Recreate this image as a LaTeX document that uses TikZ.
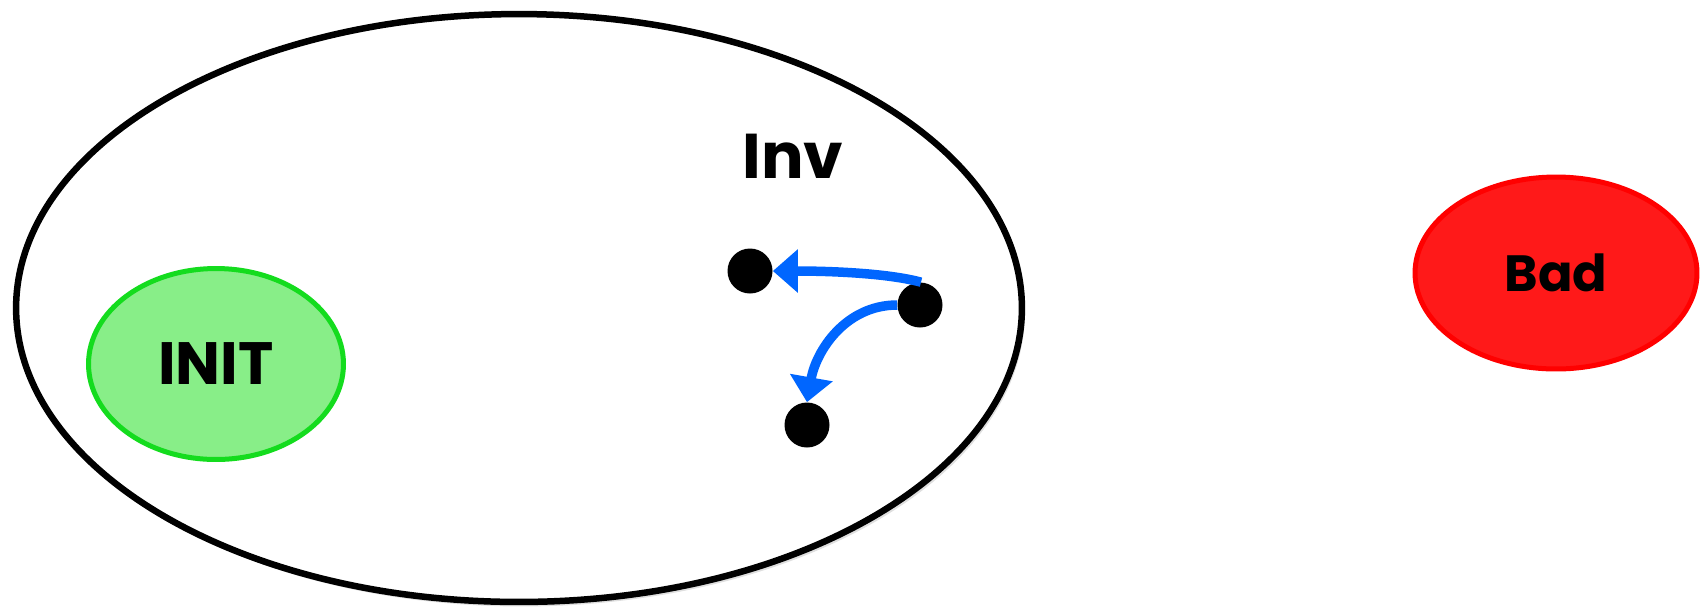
\documentclass[tikz,border=0pt]{standalone}
\usepackage{fontspec}
\setmainfont{Poppins}
\usepackage{tikz}
\usetikzlibrary{arrows.meta, positioning, shapes.geometric, shadows}
\definecolor{initgreen}{RGB}{136,238,136}
\definecolor{initline}{RGB}{20,220,30}
\definecolor{badred}{RGB}{255,25,25}
\definecolor{badline}{RGB}{255,0,0}
\definecolor{stepblue}{RGB}{0,102,255}

\begin{document}
\begin{tikzpicture}[
    x=0.02cm, y=-0.02cm,
    >={Triangle[length=0.5cm, width=0.84cm]},
    region/.style={ellipse, draw, inner sep=0pt},
    state/.style={circle, fill=black, minimum size=0.9cm, inner sep=0pt},
    trans/.style={->, line width=0.19cm, stepblue},
]
    \useasboundingbox (0,0) rectangle (1703,610);

    % invariant and the two sets
    \node[region, line width=0.13cm, fill=white,
          drop shadow={shadow xshift=0.06cm, shadow yshift=-0.09cm, opacity=0.25},
          minimum width=20.12cm, minimum height=11.76cm] (inv) at (519,308) {};
    \node[font=\fontsize{36}{40}\selectfont\bfseries] (invlabel) at (793,156) {Inv};

    \node[region, line width=0.1cm, draw=initline, fill=initgreen,
          minimum width=5.1cm, minimum height=3.82cm,
          font=\fontsize{34}{38}\selectfont\bfseries] (init) at (216,364) {INIT};

    \node[region, line width=0.1cm, draw=badline, fill=badred,
          minimum width=5.64cm, minimum height=3.84cm,
          font=\fontsize{29}{32}\selectfont\bfseries] (bad) at (1556,273) {Bad};

    % states and transitions
    \node[state] (s1) at (750,271) {};
    \node[state] (s2) at (920,305) {};
    \node[state] (s3) at (807,425) {};

    \draw[trans] ([xshift=0.02cm]s2.north) to[out=165, in=0, looseness=0.7] (s1.east);
    \draw[trans] (s2.west) to[out=180, in=80] (s3.north);
\end{tikzpicture}
\end{document}
